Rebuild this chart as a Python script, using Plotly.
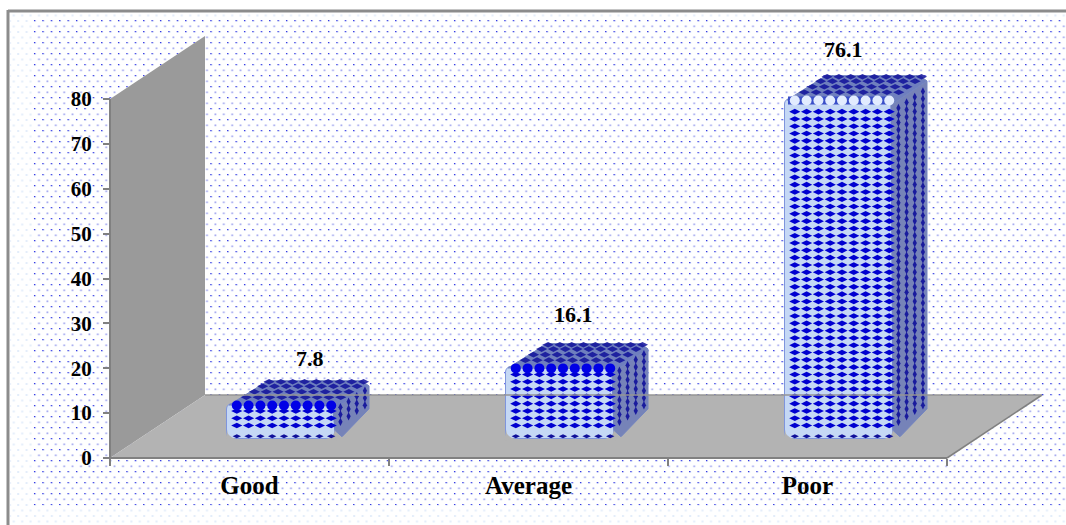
import base64
import numpy as np
import plotly.graph_objects as go

# Chart data
categories = ["Good", "Average", "Poor"]
values = [7.8, 16.1, 76.1]
y_ticks = [0, 10, 20, 30, 40, 50, 60, 70, 80]

# Page and projection geometry
W, H = 1066, 525
CAT_PX = 279.0            # pixels per category
X0_PX = 249.5             # pixel of the first category centre
Y_SCALE = 359 / 80        # pixels per unit on the value axis
Y0_PX = 458
BAR_SCALE = 4.466         # pixels per unit on the plane the bars stand on
BAR_BASE_PX = 438.5
BAR_LEFT = (227 - X0_PX) / CAT_PX
BAR_W = 108 / CAT_PX
DEPTH_X, DEPTH_Y = 34 / CAT_PX, 23 / BAR_SCALE
WALL_X, WALL_Y = 95 / CAT_PX, 63 / Y_SCALE
FLOOR_BACK = 63 / Y_SCALE

SERIF = "Liberation Serif"
FRONT, SIDE, TOP = "#c5d8f5", "#7683b8", "#6f7fbe"
BLUE, NAVY = "#0000d0", "#10109a"
FLOOR, WALL, AXIS = "#b3b3b3", "#9a9a9a", "#808080"


def dotted_background():
    """Page texture: a pale dot grid with a stronger grid in the inner panel."""
    svg = f"""<svg xmlns='http://www.w3.org/2000/svg' width='{W}' height='{H}'>
<defs>
<pattern id='p' width='8.4' height='11' patternUnits='userSpaceOnUse' x='33' y='20'>
<rect x='1' y='0' width='1.2' height='1.2' fill='#1c1ce0'/>
<rect x='5.2' y='5.5' width='1.6' height='1.6' fill='#a9a9f0'/>
</pattern>
<pattern id='q' width='8.4' height='11' patternUnits='userSpaceOnUse' x='33' y='20'>
<rect x='1' y='0' width='2' height='2' fill='#e3edfa'/>
<rect x='5' y='5.5' width='2' height='2' fill='#e3edfa'/>
</pattern>
</defs>
<rect x='10' y='13' width='{W}' height='{H}' fill='url(#q)'/>
<rect x='33' y='20' width='{W}' height='485' fill='url(#p)'/>
</svg>"""
    return "data:image/svg+xml;base64," + base64.b64encode(svg.encode()).decode()


fig = go.Figure()

# Back wall and floor of the chart box
fig.add_trace(go.Scatter(
    x=[-0.5, -0.5 + WALL_X, -0.5 + WALL_X, -0.5, -0.5],
    y=[0, WALL_Y, 80 + WALL_Y, 80, 0],
    mode="lines", fill="toself", fillcolor=WALL, line=dict(color=WALL, width=0),
    hoverinfo="skip", showlegend=False))
fig.add_trace(go.Scatter(
    x=[-0.5, -0.5 + WALL_X, 2.5 + WALL_X, 2.5, -0.5],
    y=[0, FLOOR_BACK, FLOOR_BACK, 0, 0],
    mode="lines", fill="toself", fillcolor=FLOOR, line=dict(color=FLOOR, width=0),
    hoverinfo="skip", showlegend=False))

# Front faces of the bars
fig.add_trace(go.Bar(
    x=list(range(len(categories))), y=values, base=0, yaxis="y2",
    width=BAR_W, offset=BAR_LEFT,
    marker=dict(color=FRONT, cornerradius=6, line=dict(color="#7f95dc", width=1)),
    hoverinfo="skip", showlegend=False))


def face(xs, ys, color):
    fig.add_trace(go.Scatter(
        x=xs, y=ys, yaxis="y2", mode="lines", fill="toself", fillcolor=color,
        line=dict(color="#7485c0", width=1),
        hoverinfo="skip", showlegend=False))


def dots(xs, ys, symbol, size, color, opacity=1.0):
    fig.add_trace(go.Scatter(
        x=xs, y=ys, yaxis="y2", mode="markers",
        marker=dict(symbol=symbol, size=size, color=color, opacity=opacity, line=dict(width=0)),
        hoverinfo="skip", showlegend=False))


def corner_mask(cx, sign):
    """Floor-coloured wedge that rounds one lower corner of a bar."""
    r_x, r_y = 9 / CAT_PX, 9 / BAR_SCALE
    t = np.linspace(0, np.pi / 2, 8)
    ax = cx + sign * r_x * (1 - np.sin(t))
    ay = r_y * (1 - np.cos(t))
    xs = np.r_[cx - sign * 0.004, ax, cx - sign * 0.004]
    ys = np.r_[-0.5, ay, -0.5]
    fig.add_trace(go.Scatter(
        x=xs, y=ys, yaxis="y2", mode="lines", fill="toself", fillcolor=FLOOR,
        line=dict(color=FLOOR, width=0), hoverinfo="skip", showlegend=False))


col_px = 11.8
row_u = 7.3 / BAR_SCALE
for i, v in enumerate(values):
    left = i + BAR_LEFT
    right = left + BAR_W
    cols = left + np.arange(1, 10) * col_px / CAT_PX - 2 / CAT_PX
    r = 7 / CAT_PX

    # Top and right-hand faces in oblique projection
    face([left + r * 0.3, left + r + DEPTH_X, right + DEPTH_X - r, right + DEPTH_X, right, right - r, left + r * 0.3],
         [v - 0.3, v + DEPTH_Y, v + DEPTH_Y, v + DEPTH_Y - 1.2, v - 1.2, v - 0.5, v - 0.3], TOP)
    face([right - r * 0.3, right + DEPTH_X, right + DEPTH_X, right + r, right, right - r * 0.3],
         [v - 1.5, v + DEPTH_Y - 1.2, DEPTH_Y + 1.5, 0.4, 1.8, v - 1.5], SIDE)

    # Weave on the front face
    rows = np.arange(2.9, v - 1.6, row_u)
    gx, gy = np.meshgrid(cols, rows)
    dots(gx.ravel(), gy.ravel(), "diamond-wide", 8, BLUE)

    # Weave on the top face
    fr = np.array([0.28, 0.52, 0.76, 0.95])
    gc, gf = np.meshgrid(cols, fr)
    dots((gc + gf * DEPTH_X).ravel(), (v + gf * DEPTH_Y).ravel(), "diamond-wide", 8, NAVY, 0.85)

    # Weave on the right-hand face
    fc = np.array([0.16, 0.4, 0.64, 0.88])
    gs, gr = np.meshgrid(fc, rows)
    dots((right + gs * DEPTH_X).ravel(), (gr + gs * DEPTH_Y).ravel(), "diamond-tall", 6, NAVY, 0.9)

    # Bevel row along the front top edge, bottom rim row and rounded lower corners
    rim_color = "#e2ecff" if i == 2 else "#0000e6"
    if i == 2:
        fig.add_trace(go.Scatter(
            x=[left + 3 / CAT_PX, right - 3 / CAT_PX], y=[v - 0.4, v - 0.4], yaxis="y2", mode="lines",
            line=dict(color="#3a4fc8", width=8), hoverinfo="skip", showlegend=False))
    dots(cols, [v - 0.4] * len(cols), "circle", 10, rim_color)
    corner_mask(left, 1)
    corner_mask(right, -1)
    dots(cols, [0.5] * len(cols), "diamond-wide", 6, NAVY)

# Value labels above each bar
label_dx = [60, 45, 36]
label_dy = [45, 52, 49]
for i, v in enumerate(values):
    fig.add_annotation(
        x=i, y=v, xref="x", yref="y2", xshift=label_dx[i], yshift=label_dy[i],
        text=f"<b>{v}</b>", showarrow=False,
        font=dict(family=SERIF, size=22, color="#000000"))

x_range = [-X0_PX / CAT_PX, (W - X0_PX) / CAT_PX]
y_range = [-(H - Y0_PX) / Y_SCALE, Y0_PX / Y_SCALE]
y2_range = [-(H - BAR_BASE_PX) / BAR_SCALE, BAR_BASE_PX / BAR_SCALE]

fig.update_layout(
    width=W, height=H, margin=dict(l=0, r=0, t=0, b=0),
    paper_bgcolor="#ffffff", plot_bgcolor="rgba(0,0,0,0)",
    showlegend=False, bargap=0,
    xaxis=dict(
        range=x_range, domain=[0, 1], anchor="free", position=(H - Y0_PX) / H,
        tickmode="array", tickvals=list(range(len(categories))),
        ticktext=[f"<b>{c}</b>" for c in categories],
        ticks="", ticklabelstandoff=10, showgrid=False, zeroline=False, showline=False,
        tickfont=dict(family=SERIF, size=25, color="#000000"),
        minor=dict(tickmode="array", tickvals=[-0.5, 0.5, 1.5, 2.5], ticks="outside",
                   ticklen=7, tickwidth=2, tickcolor=AXIS, showgrid=False),
    ),
    yaxis=dict(
        range=y_range, domain=[0, 1], anchor="free", position=110 / W,
        tickmode="array", tickvals=y_ticks,
        ticktext=[f"<b>{t}</b>" for t in y_ticks],
        ticks="outside", ticklen=7, tickwidth=2, tickcolor=AXIS, ticklabelstandoff=7,
        showgrid=False, zeroline=False, showline=False,
        tickfont=dict(family=SERIF, size=21, color="#000000"),
    ),
    yaxis2=dict(range=y2_range, domain=[0, 1], overlaying="y", visible=False),
    images=[dict(source=dotted_background(), xref="paper", yref="paper", x=0, y=1,
                 sizex=1, sizey=1, sizing="stretch", xanchor="left", yanchor="top", layer="below")],
    shapes=[
        # Axis lines and the floor's right edge
        dict(type="line", xref="x", yref="y", x0=-0.5, x1=-0.5, y0=0, y1=80, line=dict(color=AXIS, width=2)),
        dict(type="line", xref="x", yref="y", x0=-0.5, x1=2.5, y0=0, y1=0, line=dict(color=AXIS, width=2)),
        dict(type="line", xref="x", yref="y", x0=2.5, x1=2.5 + WALL_X, y0=0, y1=FLOOR_BACK, line=dict(color=AXIS, width=1.5)),
        dict(type="line", xref="x", yref="y", x0=-0.5 + WALL_X, x1=2.5 + WALL_X, y0=FLOOR_BACK, y1=FLOOR_BACK, line=dict(color="#949494", width=1.5)),
        # Frame around the chart area
        dict(type="line", xref="paper", yref="paper", x0=8 / W, x1=1, y0=1 - 11 / H, y1=1 - 11 / H, line=dict(color="#8c8c8c", width=3)),
        dict(type="line", xref="paper", yref="paper", x0=8 / W, x1=8 / W, y0=0, y1=1 - 10 / H, line=dict(color="#8c8c8c", width=3)),
    ],
)

fig.write_html("out.html")
